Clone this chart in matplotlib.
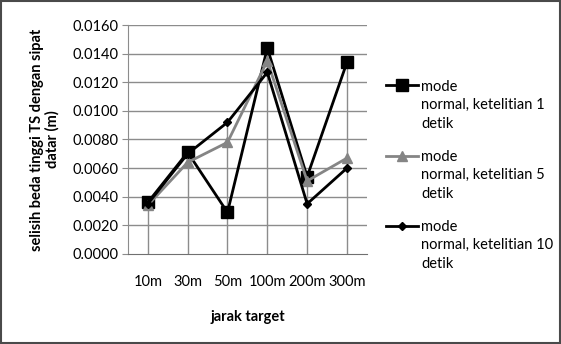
import numpy as np
import matplotlib.pyplot as plt
from matplotlib.ticker import FormatStrFormatter

plt.rcParams['font.family'] = ['Lato', 'DejaVu Sans']

# jarak target dan selisih tinggi (m) untuk tiap mode
jarak = ['10m', '30m', '50m', '100m', '200m', '300m']
ketelitian_1 = [0.0036, 0.0071, 0.0029, 0.0144, 0.0054, 0.0134]
ketelitian_5 = [0.0034, 0.0064, 0.0078, 0.0135, 0.0051, 0.0067]
ketelitian_10 = [0.0035, 0.0070, 0.0092, 0.0127, 0.0035, 0.0060]

keterangan = ['normal, ketelitian 1\ndetik',
              'normal, ketelitian 5\ndetik',
              'normal, ketelitian 10\ndetik']

fs = 10.5
x = np.arange(len(jarak))
puncak = np.max([ketelitian_1, ketelitian_5, ketelitian_10], axis=0)

fig = plt.figure(figsize=(5.61, 3.44), dpi=100)
ax = fig.add_axes([0.228, 0.262, 0.426, 0.665])

# garis grid horizontal
for yv in np.arange(0.002, 0.0161, 0.002):
    ax.axhline(yv, color='#8c8c8c', lw=1, zorder=0)

# garis jatuh dari tiap kategori
ax.vlines(x, 0, puncak, color='#8c8c8c', lw=1, zorder=1)

ax.plot(x, ketelitian_1, color='black', lw=2, marker='s', ms=8, label='mode', zorder=3)
ax.plot(x, ketelitian_5, color='#858585', lw=2, marker='^', ms=6.5, label='mode', zorder=4)
ax.plot(x, ketelitian_10, color='black', lw=2, marker='D', ms=4.5, label='mode', zorder=5)

ax.set_xlim(-0.5, 5.5)
ax.set_ylim(0, 0.016)
ax.set_yticks(np.arange(0, 0.0161, 0.002))
ax.yaxis.set_major_formatter(FormatStrFormatter('%.4f'))
ax.set_xticks(x)
ax.set_xticklabels(jarak)

for s in ['top', 'right']:
    ax.spines[s].set_visible(False)
ax.spines['left'].set_color('#8c8c8c')
ax.spines['bottom'].set_color('#707070')
ax.tick_params(axis='y', length=4, color='#8c8c8c', labelsize=fs, pad=3)
ax.tick_params(axis='x', length=0, labelsize=fs, pad=15)

ax.set_xlabel('jarak target', fontsize=fs, fontweight='bold', labelpad=15)
ax.set_ylabel('selisih beda tinggi TS dengan sipat\ndatar (m)', fontsize=fs,
              fontweight='bold', labelpad=9, linespacing=1.1)

leg = fig.legend(loc='upper left', bbox_to_anchor=(0.675, 0.79), frameon=False,
                 fontsize=fs, handlelength=2.2, handletextpad=0.2, labelspacing=3.85,
                 borderpad=0)

# baris lanjutan label legenda di bawah "mode"
fig.canvas.draw()
for t, teks in zip(leg.get_texts(), keterangan):
    bb = t.get_window_extent().transformed(fig.transFigure.inverted())
    fig.text(bb.x0, bb.y0 - 0.012, teks, fontsize=fs, va='top', ha='left', linespacing=1.45)

# bingkai luar
fig.patches.append(plt.Rectangle((0.002, 0.002), 0.996, 0.994, transform=fig.transFigure,
                                 fill=False, edgecolor='#4a4a4a', lw=1.5))

fig.savefig('out.png', dpi=100)
